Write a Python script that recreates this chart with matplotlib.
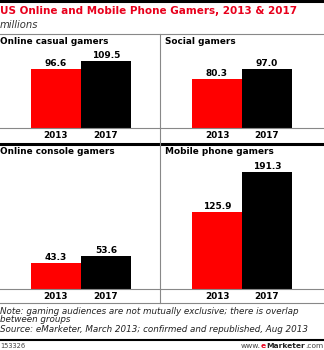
import matplotlib
matplotlib.use("Agg")
import matplotlib.pyplot as plt
from matplotlib.lines import Line2D

# data (millions)
years = ["2013", "2017"]
panel_names = ["Online casual gamers", "Social gamers",
               "Online console gamers", "Mobile phone gamers"]
casual = [96.6, 109.5]
social = [80.3, 97.0]
console = [43.3, 53.6]
mobile = [125.9, 191.3]
bar_colors = ["#ff0000", "#000000"]

W, H = 324, 350
fig = plt.figure(figsize=(W / 100, H / 100), dpi=100)
plt.rcParams['font.family'] = 'DejaVu Sans'

# helpers: pixel coords (from top-left) -> figure fraction
def fx(x):
    return x / W

def fy(y):
    return 1 - y / H

def hline(y, x0, x1, color, lw):
    fig.add_artist(Line2D([fx(x0), fx(x1)], [fy(y), fy(y)], color=color,
                          lw=lw, transform=fig.transFigure))

def vline(x, y0, y1, color, lw):
    fig.add_artist(Line2D([fx(x), fx(x)], [fy(y0), fy(y1)], color=color,
                          lw=lw, transform=fig.transFigure))

# header
hline(1.2, 0, W, "black", 2.2)
fig.text(fx(0), fy(11), "US Online and Mobile Phone Gamers, 2013 & 2017",
         color="#e8001c", fontsize=7.5, fontweight="bold", va="center", ha="left")
fig.text(fx(0), fy(25), "millions", fontsize=7.2, style="italic", va="center",
         color="#333333")
hline(33.5, 0, W, "#888888", 0.8)

px_per_unit = 0.61
# name, values, panel left/right, bar area top/baseline, title x
panels = [
    (panel_names[0], casual, 0, 160, 50, 128, 0),
    (panel_names[1], social, 160, 324, 50, 128, 165),
    (panel_names[2], console, 0, 160, 160, 289, 0),
    (panel_names[3], mobile, 160, 324, 160, 289, 165),
]

for name, vals, x0, x1, ytop, ybase, tx in panels:
    ax = fig.add_axes([fx(x0), fy(ybase), (x1 - x0) / W, (ybase - ytop) / H])
    redleft = x0 + 31 if x0 == 0 else x0 + 32
    lo = -0.5 - (redleft - x0) / 50
    ax.set_xlim(lo, lo + (x1 - x0) / 50)
    ax.set_ylim(0, (ybase - ytop) / px_per_unit)
    ax.bar([0, 1], vals, width=1.0, color=bar_colors)
    ax.axhline(0, color="#888888", lw=0.8, clip_on=False)
    for i, v in enumerate(vals):
        ax.text(i, v + 1.5, "%.1f" % v, ha="center", va="bottom", fontsize=6.5,
                fontweight="bold")
        fig.text(fx(redleft + 25 + 50 * i), fy(ybase + 7.5), years[i],
                 fontsize=6.4, fontweight="bold", ha="center", va="center")
    ax.axis("off")
    fig.text(fx(tx), fy(ytop - 8), name, fontsize=6.4,
             fontweight="bold", va="center", ha="left")

hline(144, 0, W, "black", 2.2)
vline(160, 33.5, 303, "#888888", 0.8)
hline(303, 0, W, "#888888", 0.8)

# notes
note_color = "#222222"
fig.text(fx(0), fy(311), "Note: gaming audiences are not mutually exclusive; there is overlap",
         fontsize=6.3, style="italic", va="center", color=note_color)
fig.text(fx(0), fy(320), "between groups", fontsize=6.3, style="italic",
         va="center", color=note_color)
fig.text(fx(0), fy(330), "Source: eMarketer, March 2013; confirmed and republished, Aug 2013",
         fontsize=6.3, style="italic", va="center", color=note_color)
hline(339.5, 0, W, "black", 1.5)
fig.text(fx(0), fy(345.5), "153326", fontsize=4.8, va="center", color="#444444")

# eMarketer logo text, built right to left
renderer = fig.canvas.get_renderer()
x = 323
parts = [(".com", "normal", "#444444"), ("Marketer", "bold", "#222222"),
         ("e", "bold", "#e8001c"), ("www.", "normal", "#444444")]
for txt, wt, col in parts:
    t = fig.text(fx(x), fy(345.5), txt, fontsize=5.4, fontweight=wt, color=col,
                 ha="right", va="center")
    bb = t.get_window_extent(renderer=renderer)
    x -= bb.width

fig.savefig("out.png", dpi=100)
